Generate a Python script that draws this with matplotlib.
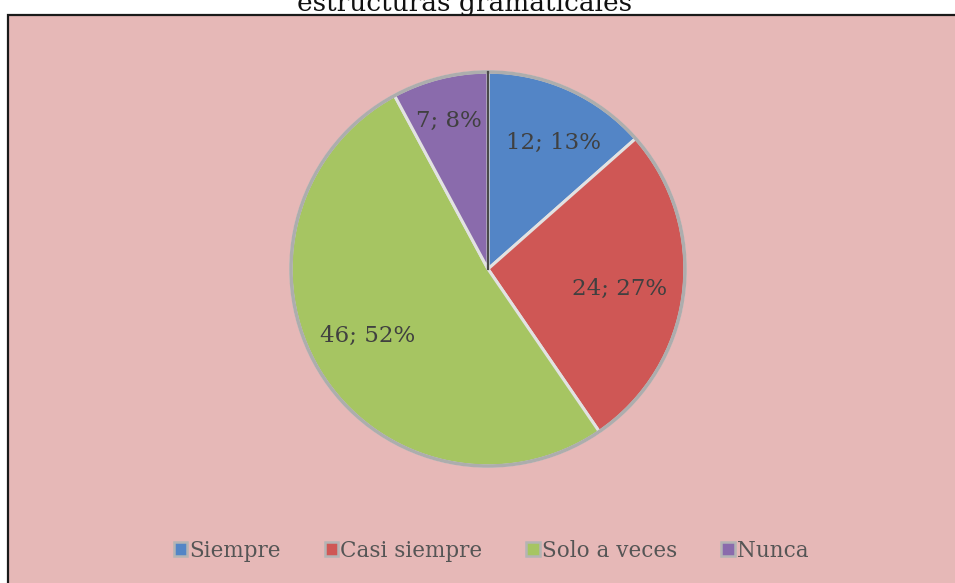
import matplotlib.pyplot as plt
from matplotlib.patches import Rectangle, Patch

# data
categorias = ['Siempre', 'Casi siempre', 'Solo a veces', 'Nunca']
valores = [12, 24, 46, 7]
porcentajes = [13, 27, 52, 8]
colores = ['#5385C6', '#CF5755', '#A6C562', '#8A6BAC']
titulo = 'estructuras gramaticales'

W, H = 955, 583
fig = plt.figure(figsize=(W / 100, H / 100), dpi=100)
fig.patch.set_facecolor('white')

# chart area (pink with dark border, cut off on the right and bottom)
fig.add_artist(Rectangle((7.5 / W, -0.01), 1.0, (H - 14.5) / H + 0.01,
                         transform=fig.transFigure, facecolor='#E6B8B7',
                         edgecolor='#1a1a1a', linewidth=1.6, zorder=0))

# title (only the lower part is visible, like the original)
fig.text(465 / W, 1 - 10.5 / H, titulo, ha='center', va='baseline',
         fontsize=19, family='DejaVu Serif', color='#111111')

# pie
cx, cy, r = 488, 269, 197
m = 1.03
ax = fig.add_axes([(cx - r * m) / W, (H - cy - r * m) / H, 2 * r * m / W, 2 * r * m / H])
ax.set_facecolor('none')
cunas, _ = ax.pie(valores, colors=colores, startangle=90, counterclock=False,
                  wedgeprops=dict(edgecolor='#E2E2E2', linewidth=2.2))
for c in cunas:
    c.set_zorder(2)
ax.add_artist(plt.Circle((0, 0), 1.0, fill=False, edgecolor='#ADADAD',
                         linewidth=2.5, zorder=3))
ax.plot([0, 0], [0, 1.0], color='#4A4A4A', linewidth=1.6, zorder=4)
ax.set_xlim(-m, m)
ax.set_ylim(-m, m)
ax.axis('off')

# labels placed in data coords of the pie
pos_etiquetas = [(0.33, 0.64), (0.67, -0.10), (-0.61, -0.34), (-0.20, 0.75)]
for (x, y), v, p in zip(pos_etiquetas, valores, porcentajes):
    ax.text(x, y, f'{v}; {p}%', ha='center', va='center', fontsize=16.5,
            family='DejaVu Serif', color='#404040', zorder=5)

# legend
manejadores = [Patch(facecolor=c, edgecolor='#B4B4B4', linewidth=1.8) for c in colores]
leg = fig.legend(manejadores, categorias, loc='center', ncol=4,
                 bbox_to_anchor=(491 / W, 1 - 551 / H), frameon=False,
                 prop={'family': 'DejaVu Serif', 'size': 15.5},
                 labelcolor='#555555', handlelength=0.62, handleheight=0.62,
                 handletextpad=0.1, columnspacing=2.05, borderpad=0)

fig.savefig('out.png', dpi=100)
